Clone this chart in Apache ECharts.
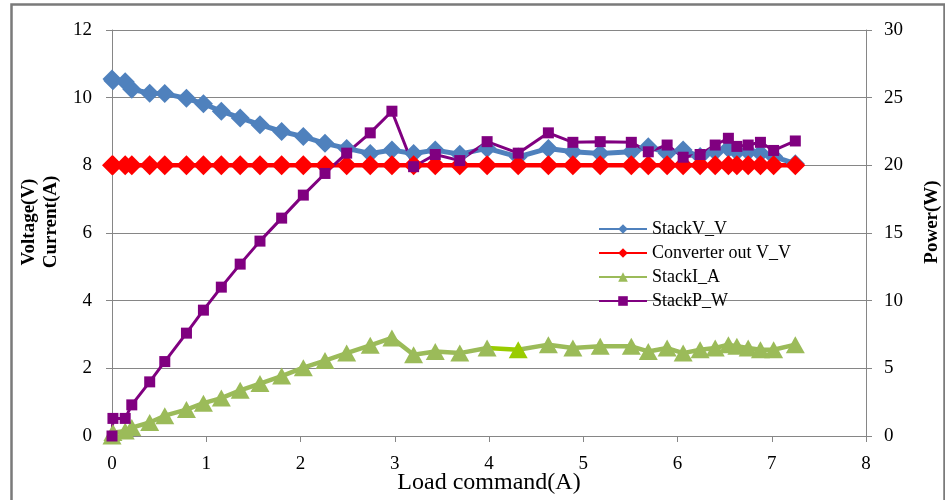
<!DOCTYPE html>
<html>
<head>
<meta charset="utf-8">
<script src="https://cdn.jsdelivr.net/npm/echarts@6/dist/echarts.min.js"></script>
<style>html,body{margin:0;padding:0;background:#fff;}#c{width:945px;height:500px;}</style>
</head>
<body>
<div id="c"></div>
<script>
const loadCmd = [0, 0.01, 0.14, 0.21, 0.40, 0.56, 0.79, 0.97, 1.16, 1.36, 1.57, 1.80, 2.03, 2.26, 2.49, 2.74, 2.97, 3.20, 3.43, 3.69, 3.98, 4.31, 4.63, 4.89, 5.18, 5.51, 5.69, 5.89, 6.06, 6.24, 6.40, 6.54, 6.63, 6.75, 6.88, 7.02, 7.25];
const stackV = [10.55, 10.5, 10.47, 10.25, 10.13, 10.12, 9.98, 9.82, 9.6, 9.4, 9.2, 9.0, 8.85, 8.65, 8.5, 8.35, 8.45, 8.35, 8.45, 8.33, 8.5, 8.25, 8.5, 8.4, 8.35, 8.4, 8.55, 8.36, 8.45, 8.26, 8.4, 8.5, 8.4, 8.4, 8.36, 8.26, 8.05];
const convV = [8, 8, 8, 8, 8, 8, 8, 8, 8, 8, 8, 8, 8, 8, 8, 8, 8, 8, 8, 8, 8, 8, 8, 8, 8, 8, 8, 8, 8, 8, 8, 8, 8, 8, 8, 8, 8];
const stackI = [0, 0.1, 0.15, 0.25, 0.4, 0.6, 0.78, 0.97, 1.12, 1.35, 1.55, 1.77, 2.02, 2.23, 2.45, 2.68, 2.9, 2.4, 2.5, 2.45, 2.6, 2.55, 2.7, 2.6, 2.65, 2.65, 2.5, 2.6, 2.45, 2.55, 2.6, 2.7, 2.65, 2.6, 2.55, 2.55, 2.7];
const stackP = [0, 1.3, 1.3, 2.3, 4.0, 5.5, 7.6, 9.3, 11.0, 12.7, 14.4, 16.1, 17.8, 19.4, 20.9, 22.4, 24.0, 19.9, 20.8, 20.35, 21.75, 20.9, 22.4, 21.7, 21.75, 21.7, 21.0, 21.5, 20.6, 20.8, 21.5, 22.0, 21.4, 21.5, 21.7, 21.1, 21.8];
const seriesNames = ['StackV_V', 'Converter out V_V', 'StackI_A', 'StackP_W'];
const xTicks = [0, 8, 1];
const leftTicks = [0, 12, 2];
const rightTicks = [0, 30, 5];

const pair = (ys) => loadCmd.map((x, i) => [x, ys[i]]);
const FONT = 'Liberation Serif';
const GRAY = '#868686';

const chart = echarts.init(document.getElementById('c'), null, {renderer: 'canvas'});
chart.setOption({
  animation: false,
  backgroundColor: '#fff',
  graphic: [{
    type: 'rect', left: 9, top: 2, silent: true, z: 100,
    shape: {width: 933, height: 505},
    style: {fill: 'none', stroke: '#7a7a7a', lineWidth: 2.5}
  }],
  grid: {left: 112, right: 79, top: 30, bottom: 64, containLabel: false, outerBoundsMode: 'none'},
  legend: {
    orient: 'vertical', left: 593, top: 214,
    itemWidth: 48, itemHeight: 12, itemGap: 4,
    textStyle: {fontFamily: FONT, fontSize: 18, color: '#000', lineHeight: 20},
    data: seriesNames
  },
  visualMap: [{
    type: 'piecewise', show: false, seriesIndex: 2, dimension: 0,
    pieces: [{gt: 4.0, lte: 4.32, color: '#99CC00'}],
    outOfRange: {color: '#9BBB59'}
  }],
  xAxis: {
    type: 'value', min: xTicks[0], max: xTicks[1], interval: xTicks[2],
    name: 'Load command(A)', nameLocation: 'middle', nameGap: 35, nameMoveOverlap: false,
    nameTextStyle: {fontFamily: FONT, fontSize: 24, color: '#000'},
    axisLine: {lineStyle: {color: GRAY, width: 1}},
    axisTick: {show: true, length: 6, lineStyle: {color: GRAY}},
    axisLabel: {fontFamily: FONT, fontSize: 19, color: '#000', margin: 19},
    splitLine: {show: false}
  },
  yAxis: [{
    type: 'value', position: 'left', min: leftTicks[0], max: leftTicks[1], interval: leftTicks[2],
    name: 'Voltage(V)\nCurrent(A)', nameLocation: 'middle', nameGap: 50, nameRotate: 90,
    nameTextStyle: {fontFamily: FONT, fontSize: 19, fontWeight: 'bold', color: '#000', lineHeight: 22, padding: [0, 0, 0, 22]},
    axisLine: {show: true, lineStyle: {color: GRAY, width: 1}},
    axisTick: {show: true, length: 6, lineStyle: {color: GRAY}},
    axisLabel: {fontFamily: FONT, fontSize: 19, color: '#000', margin: 20},
    splitLine: {show: true, lineStyle: {color: GRAY, width: 1}}
  }, {
    type: 'value', position: 'right', min: rightTicks[0], max: rightTicks[1], interval: rightTicks[2],
    name: 'Power(W)', nameLocation: 'middle', nameGap: 57, nameRotate: 90,
    nameTextStyle: {fontFamily: FONT, fontSize: 19, fontWeight: 'bold', color: '#000', padding: [0, 0, 0, 22]},
    axisLine: {show: true, lineStyle: {color: GRAY, width: 1}},
    axisTick: {show: true, length: 6, lineStyle: {color: GRAY}},
    axisLabel: {fontFamily: FONT, fontSize: 19, color: '#000', margin: 18},
    splitLine: {show: false}
  }],
  series: [{
    name: seriesNames[0], type: 'line', yAxisIndex: 0, data: pair(stackV),
    symbol: 'diamond', symbolSize: 19, color: '#4F81BD',
    lineStyle: {width: 5, color: '#4F81BD'}, itemStyle: {color: '#4F81BD'}
  }, {
    name: seriesNames[1], type: 'line', yAxisIndex: 0, data: pair(convV),
    symbol: 'diamond', symbolSize: 20, color: '#FF0000',
    lineStyle: {width: 4.5, color: '#FF0000'}, itemStyle: {color: '#FF0000'}
  }, {
    name: seriesNames[2], type: 'line', yAxisIndex: 0, data: pair(stackI),
    symbol: 'triangle', symbolSize: [19, 17], color: '#9BBB59',
    lineStyle: {width: 4.5}, itemStyle: {color: '#9BBB59'}
  }, {
    name: seriesNames[3], type: 'line', yAxisIndex: 1, data: pair(stackP),
    symbol: 'rect', symbolSize: 11, color: '#800080',
    lineStyle: {width: 3, color: '#800080'}, itemStyle: {color: '#800080'}
  }]
});
</script>
</body>
</html>
